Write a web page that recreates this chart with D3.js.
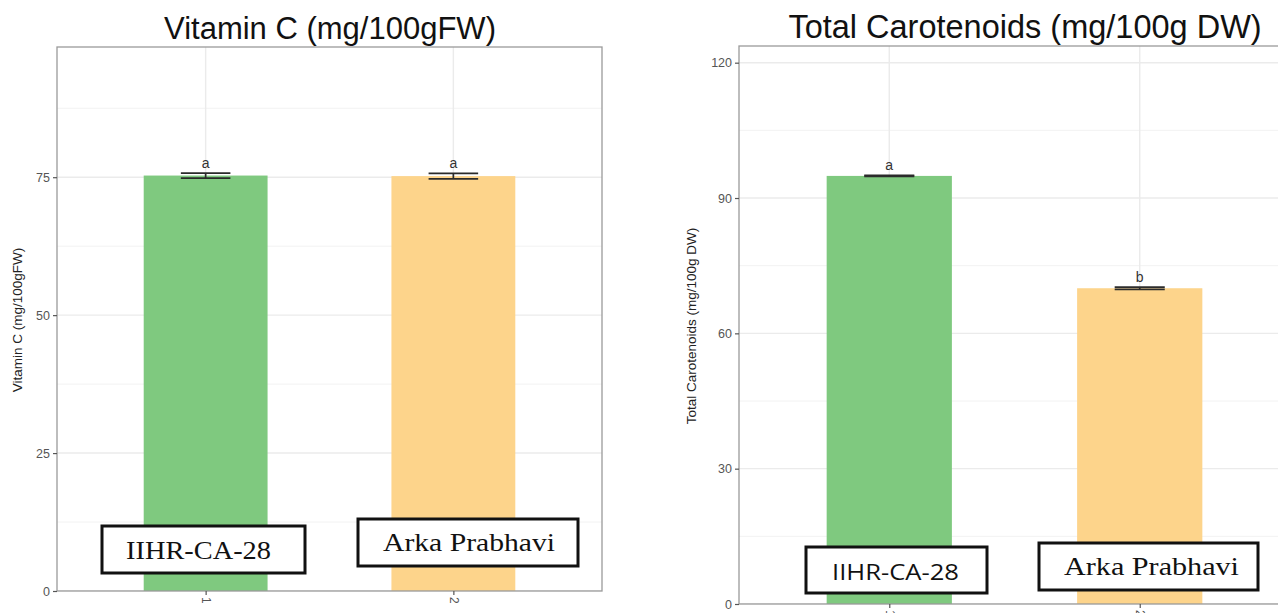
<!DOCTYPE html>
<html>
<head>
<meta charset="utf-8">
<script src="https://cdn.jsdelivr.net/npm/d3@7"></script>
<style>
  html, body { margin: 0; padding: 0; background: #fff; }
  svg { display: block; }
</style>
</head>
<body>
<svg id="chart" width="1278" height="613"></svg>
<script>
// ---- Data ----
const genotypes = ["1", "2"];
const boxLabels = ["IIHR-CA-28", "Arka Prabhavi"];
const barColors = ["#7fc97f", "#fdd48b"];

const vitCMeans = [75.3, 75.2];
const vitCSE = [0.45, 0.5];
const vitCLetters = ["a", "a"];
const vitCTicks = [0, 25, 50, 75];
const vitCMinor = [12.5, 37.5, 62.5, 87.5];

const carotMeans = [94.9, 70.0];
const carotSE = [0.12, 0.25];
const carotLetters = ["a", "b"];
const carotTicks = [0, 30, 60, 90, 120];
const carotMinor = [15, 45, 75, 105];

const svg = d3.select("#chart");

function drawPanel(cfg) {
  const g = svg.append("g");
  const x = d3.scalePoint().domain(genotypes).range([cfg.left, cfg.right]).padding(0.6);
  const step = x.step();
  const y = d3.scaleLinear().domain([0, cfg.ymax]).range([cfg.bottom, cfg.top]);

  const clipId = "clip" + cfg.id;
  svg.append("clipPath").attr("id", clipId).append("rect")
    .attr("x", cfg.left).attr("y", cfg.top)
    .attr("width", cfg.right - cfg.left).attr("height", cfg.bottom - cfg.top);

  const pg = g.append("g").attr("clip-path", `url(#${clipId})`);
  // minor grid
  pg.selectAll("line.minor").data(cfg.minor).join("line")
    .attr("x1", cfg.left).attr("x2", cfg.right)
    .attr("y1", d => y(d)).attr("y2", d => y(d))
    .attr("stroke", "#f2f2f2").attr("stroke-width", 1);
  // major grid
  pg.selectAll("line.major").data(cfg.ticks).join("line")
    .attr("x1", cfg.left).attr("x2", cfg.right)
    .attr("y1", d => y(d)).attr("y2", d => y(d))
    .attr("stroke", "#ebebeb").attr("stroke-width", 1.4);
  pg.selectAll("line.vmajor").data(genotypes).join("line")
    .attr("x1", d => x(d)).attr("x2", d => x(d))
    .attr("y1", cfg.top).attr("y2", cfg.bottom)
    .attr("stroke", "#ebebeb").attr("stroke-width", 1.4);

  // bars
  const bw = step * 0.5;
  pg.selectAll("rect.bar").data(genotypes).join("rect")
    .attr("x", d => x(d) - bw / 2)
    .attr("width", bw)
    .attr("y", (d, i) => y(cfg.means[i]))
    .attr("height", (d, i) => y(0) - y(cfg.means[i]))
    .attr("fill", (d, i) => barColors[i]);

  // error bars
  const ew = step * 0.2;
  genotypes.forEach((d, i) => {
    const cx = x(d);
    const hi = y(cfg.means[i] + cfg.se[i]);
    const lo = y(cfg.means[i] - cfg.se[i]);
    const eg = pg.append("g").attr("stroke", "#2b2b2b").attr("stroke-width", 1.7);
    eg.append("line").attr("x1", cx - ew / 2).attr("x2", cx + ew / 2).attr("y1", hi).attr("y2", hi);
    eg.append("line").attr("x1", cx - ew / 2).attr("x2", cx + ew / 2).attr("y1", lo).attr("y2", lo);
    eg.append("line").attr("x1", cx).attr("x2", cx).attr("y1", hi).attr("y2", lo);
    pg.append("text").attr("x", cx).attr("y", hi - 5)
      .attr("text-anchor", "middle")
      .attr("font-family", "Liberation Sans, Arial, sans-serif")
      .attr("font-size", 14).attr("fill", "#333")
      .text(cfg.letters[i]);
  });

  // panel border
  g.append("rect")
    .attr("x", cfg.left).attr("y", cfg.top)
    .attr("width", cfg.right - cfg.left).attr("height", cfg.bottom - cfg.top)
    .attr("fill", "none").attr("stroke", "#9a9a9a").attr("stroke-width", 1.3);

  // y axis
  const ya = g.append("g").attr("transform", `translate(${cfg.left},0)`)
    .call(d3.axisLeft(y).tickValues(cfg.ticks).tickSize(4).tickPadding(3).tickFormat(d3.format("d")));
  ya.select(".domain").remove();
  ya.selectAll(".tick line").attr("stroke", "#555").attr("stroke-width", 1.2);
  ya.selectAll(".tick text").attr("fill", "#555")
    .attr("font-family", "Liberation Sans, Arial, sans-serif").attr("font-size", 12.5);

  // x axis
  const xa = g.append("g").attr("transform", `translate(0,${cfg.bottom})`)
    .call(d3.axisBottom(x).tickSize(4).tickPadding(4));
  xa.select(".domain").remove();
  xa.selectAll(".tick line").attr("stroke", "#555").attr("stroke-width", 1.2);
  xa.selectAll(".tick text").attr("fill", "#555")
    .attr("font-family", "Liberation Sans, Arial, sans-serif").attr("font-size", 12)
    .attr("transform", "rotate(90)").attr("dy", "0.35em").attr("x", 6).attr("y", 0)
    .attr("text-anchor", "start");

  // title
  g.append("text").attr("x", cfg.titleX).attr("y", cfg.titleY)
    .attr("text-anchor", "middle")
    .attr("font-family", "Liberation Sans, Arial, sans-serif")
    .attr("font-size", cfg.titleSize).attr("fill", "#111")
    .text(cfg.title);

  // y title
  g.append("text")
    .attr("transform", `translate(${cfg.ylabX},${cfg.ylabY}) rotate(-90)`)
    .attr("text-anchor", "middle")
    .attr("font-family", "Liberation Sans, Arial, sans-serif")
    .attr("font-size", 13.5).attr("fill", "#222")
    .text(cfg.ylab);

  // label boxes
  cfg.boxes.forEach((b, i) => {
    g.append("rect").attr("x", b.x).attr("y", b.y).attr("width", b.w).attr("height", b.h)
      .attr("fill", "#fff").attr("stroke", "#111").attr("stroke-width", 3);
    g.append("text").attr("x", b.x + b.tx).attr("y", b.y + b.ty)
      .attr("font-family", b.font).attr("font-size", b.fs).attr("fill", "#111")
      .attr("textLength", b.tl).attr("lengthAdjust", "spacingAndGlyphs")
      .text(boxLabels[i]);
  });
}

drawPanel({
  id: "a",
  left: 57, right: 602, top: 47, bottom: 591, ymax: 98.6,
  means: vitCMeans, se: vitCSE, letters: vitCLetters,
  ticks: vitCTicks, minor: vitCMinor,
  title: "Vitamin C (mg/100gFW)", titleX: 330, titleY: 39, titleSize: 31,
  ylab: "Vitamin C (mg/100gFW)", ylabX: 22, ylabY: 320,
  boxes: [
    { x: 102, y: 526, w: 203, h: 47, tx: 24, ty: 33, tl: 145, font: "Liberation Serif, Times New Roman, serif", fs: 25 },
    { x: 358, y: 519, w: 220, h: 47, tx: 25, ty: 32, tl: 172, font: "Liberation Serif, Times New Roman, serif", fs: 25 }
  ]
});

drawPanel({
  id: "b",
  left: 739, right: 1290, top: 46, bottom: 604, ymax: 123.7,
  means: carotMeans, se: carotSE, letters: carotLetters,
  ticks: carotTicks, minor: carotMinor,
  title: "Total Carotenoids (mg/100g DW)", titleX: 1025, titleY: 38, titleSize: 32.5,
  ylab: "Total Carotenoids (mg/100g DW)", ylabX: 696, ylabY: 326,
  boxes: [
    { x: 806, y: 547, w: 181, h: 46, tx: 26, ty: 33, tl: 127, font: "Open Sans, Liberation Sans, sans-serif", fs: 22 },
    { x: 1039, y: 543, w: 219, h: 47, tx: 25, ty: 32, tl: 175, font: "Liberation Serif, Times New Roman, serif", fs: 25 }
  ]
});
</script>
</body>
</html>
